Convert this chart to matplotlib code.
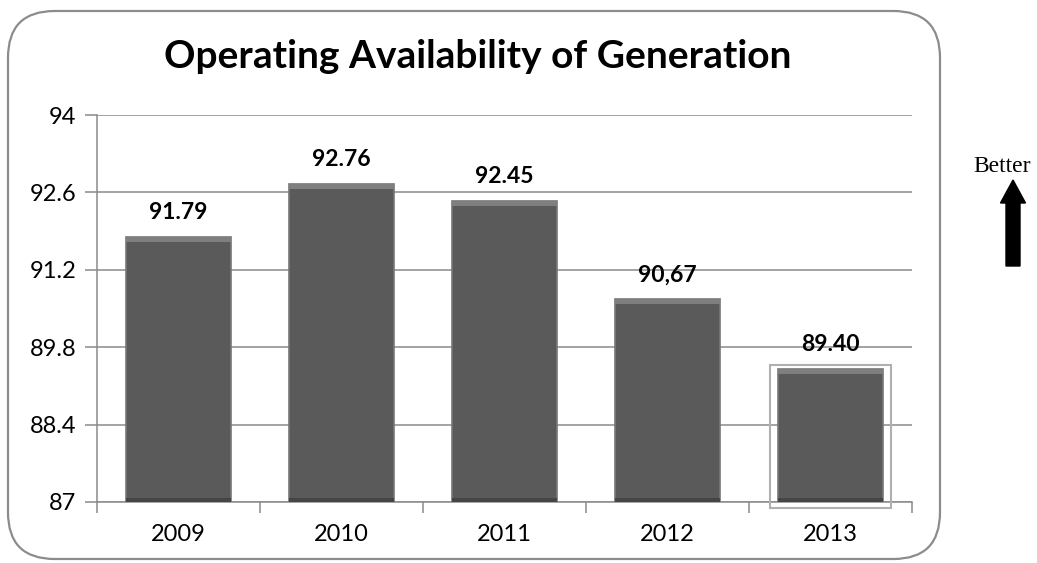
import numpy as np
import matplotlib
matplotlib.use("Agg")
import matplotlib.pyplot as plt
from matplotlib.patches import FancyBboxPatch, FancyArrow, Rectangle

years = ["2009", "2010", "2011", "2012", "2013"]
availability = [91.79, 92.76, 92.45, 90.67, 89.40]
value_labels = ["91.79", "92.76", "92.45", "90,67", "89.40"]
y_ticks = [87, 88.4, 89.8, 91.2, 92.6, 94]
y_tick_labels = ["87", "88.4", "89.8", "91.2", "92.6", "94"]

W, H = 1037, 563
fig = plt.figure(figsize=(W / 100, H / 100), dpi=100)
plt.rcParams['font.family'] = ['Lato', 'DejaVu Sans']

# rounded chart frame
frame = FancyBboxPatch((8 / W, 4 / H), 932 / W, 548 / H,
                       boxstyle="round,pad=0,rounding_size=0.045",
                       transform=fig.transFigure, facecolor="none",
                       edgecolor="#8c8c8c", linewidth=1.6, mutation_aspect=W / H)
fig.patches.append(frame)

ax = fig.add_axes([97 / W, (H - 502) / H, 815 / W, 387 / H])
ax.set_facecolor("none")

x = np.arange(len(years))
bar_w = 0.64
bars = ax.bar(x, [v - 87 for v in availability], bottom=87, width=bar_w,
              color="#5a5a5a", edgecolor="#777777", linewidth=1.2, zorder=3)
# lighter bevel along top of each bar
ax.bar(x, [0.09] * len(x), bottom=[v - 0.09 for v in availability], width=bar_w,
       color="#7f7f7f", linewidth=0, zorder=4)
# darker band at the bottom
ax.bar(x, [0.07] * len(x), bottom=87, width=bar_w,
       color="#454545", linewidth=0, zorder=4)

# selection outline around the last bar
sel = Rectangle((x[-1] - bar_w / 2 - 0.05, 86.9), bar_w + 0.1, availability[-1] + 0.08 - 86.9,
                fill=False, edgecolor="#b0b0b0", linewidth=1.5, zorder=5, clip_on=False)
ax.add_patch(sel)

for xi, v, lab in zip(x, availability, value_labels):
    ax.text(xi, v + 0.25, lab, ha="center", va="bottom", fontsize=16.5,
            fontweight="bold", zorder=6)

ax.set_xlim(-0.5, len(years) - 0.5)
ax.set_ylim(87, 94)
ax.set_yticks(y_ticks)
ax.set_yticklabels(y_tick_labels, fontsize=17)
ax.yaxis.grid(True, color="#8a8a8a", linewidth=1.1, zorder=0)
ax.set_axisbelow(True)

ax.set_xticks(x)
ax.set_xticklabels(years, fontsize=17)
ax.set_xticks(np.arange(-0.5, len(years)), minor=True)
ax.tick_params(axis="x", which="major", length=0, pad=16)
ax.tick_params(axis="x", which="minor", length=8, color="#8a8a8a", width=1.1)
ax.tick_params(axis="y", length=9, color="#8a8a8a", width=1.1, pad=6)

for side in ["top", "right"]:
    ax.spines[side].set_visible(False)
for side in ["left", "bottom"]:
    ax.spines[side].set_color("#8a8a8a")
    ax.spines[side].set_linewidth(1.1)

fig.text(478 / W, 1 - 57 / H, "Operating Availability of Generation", ha="center",
         va="center", fontsize=28, fontweight="bold")

# "Better" with arrow
fig.text(1002 / W, 1 - 166 / H, "Better", ha="center", va="center",
         fontsize=17, family="Liberation Serif")
arrow = FancyArrow(1013 / W, 1 - 266 / H, 0, 86 / H, width=14 / W,
                   head_width=25 / W, head_length=23 / H, length_includes_head=True,
                   transform=fig.transFigure, color="black")
fig.patches.append(arrow)

fig.savefig("out.png", dpi=100)
